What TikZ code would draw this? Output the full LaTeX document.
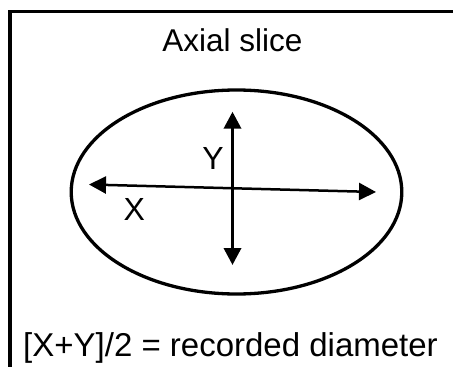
\documentclass[tikz,border=0pt]{standalone}
\usepackage{fontspec}
\setmainfont{Liberation Sans}
\usetikzlibrary{arrows.meta}
\newcommand{\CX}{236.5}
\newcommand{\CY}{192}
\newcommand{\RX}{165.3}
\newcommand{\RY}{102}

\begin{document}
\begin{tikzpicture}[
    x=1pt, y=-1pt,
    >={Triangle[length=17pt,width=17pt]},
    rim/.style={draw=black, line width=3.3pt},
    hax/.style={<->, line width=2.5pt},
    vax/.style={<->, line width=3.5pt},
    tag/.style={font=\fontsize{32}{38}\selectfont, inner sep=0pt, anchor=base},
  ]
  \useasboundingbox (0,0) rectangle (453,367);

  %% ================= frame (only top and left edges show) =================
  \draw[rim] (10,367) -- (10,11.7) -- (453,11.7);

  \node[tag, font=\fontsize{31.5}{38}\selectfont] (title) at (232.5,51.7) {Axial slice};

  %% ================= the slice and its two diameters =================
  \draw[rim] (\CX,\CY) ellipse [x radius=\RX pt, y radius=\RY pt];

  \coordinate (xl) at (89,184.5);
  \coordinate (xr) at (376,192);
  \coordinate (yt) at (232.5,111.7);
  \coordinate (yb) at (232.5,265);

  \draw[hax] (xl) -- (xr);
  \draw[vax] (yt) -- (yb);

  \node[tag] (ylbl) at (213,169.3) {Y};
  \node[tag] (xlbl) at (134.2,220) {X};

  \node[tag, font=\fontsize{33}{40}\selectfont, anchor=base west] (rule) at (23,356.7)
    {[X+Y]/2 = recorded diameter};

\end{tikzpicture}
\end{document}
